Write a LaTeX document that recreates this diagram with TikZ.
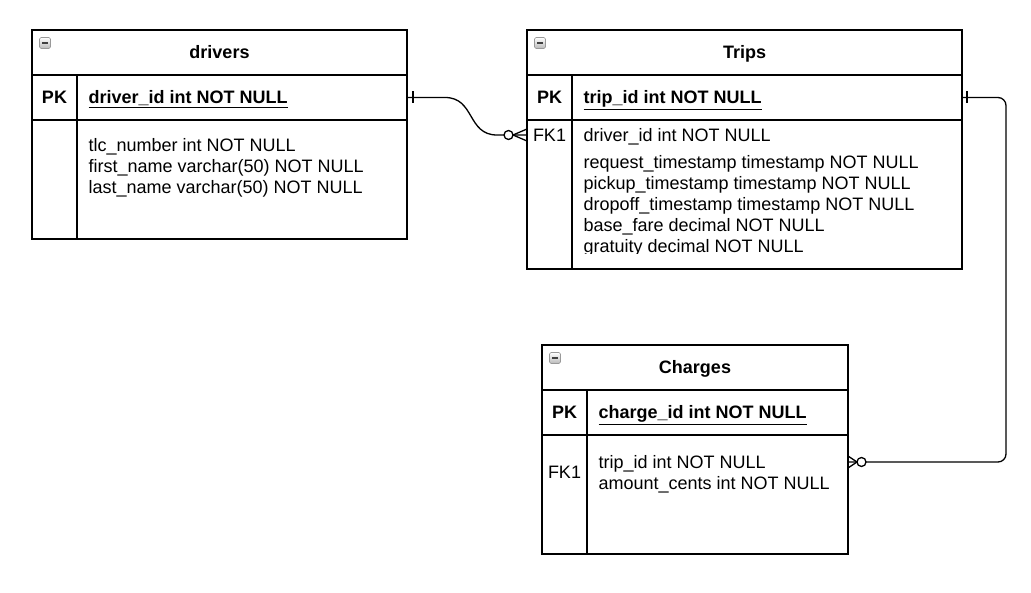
\documentclass[tikz,border=0pt]{standalone}
\usepackage{fontspec}
\setmainfont{Liberation Sans}
\usetikzlibrary{positioning}

\tikzset{
  tbl/.style={draw, line width=1.3pt, anchor=north west, inner sep=0pt, outer sep=0pt},
  ttl/.style={font=\bfseries, text height=12.9pt, text depth=0pt, inner sep=0pt},
  key/.style={text height=12.9pt, text depth=0pt, inner sep=0pt},
  fld/.style={anchor=base west, inner sep=0pt},
  minbox/.style={draw=gray!80, line width=0.6pt, rounded corners=1.5pt, minimum size=11pt, inner sep=0pt,
    top color=white, bottom color=gray!55,
    path picture={\draw[line width=1.6pt, black!75] ([xshift=-3pt]path picture bounding box.center) -- ([xshift=3pt]path picture bounding box.center);}},
}

\begin{document}
\fontsize{18pt}{21pt}\selectfont
\begin{tikzpicture}[x=1pt, y=-1pt, line width=1.3pt]
\useasboundingbox (0,0) rectangle (1031,593);

% drivers table
\node[tbl, minimum width=375pt, minimum height=45pt] (drvHead) at (32,30) {};
\node[tbl, minimum width=375pt, minimum height=45pt, below=0pt of drvHead] (drvPK) {};
\node[tbl, minimum width=375pt, minimum height=119pt, below=0pt of drvPK] (drvBody) {};
\draw ([xshift=45pt]drvPK.north west) -- ([xshift=45pt]drvBody.south west);
\node[ttl] (drvTitle) at (drvHead.center) {drivers};
\node[minbox] (drvIcon) at (45,43) {};
\node[key, font=\bfseries] (drvPKk) at (54.5,97.5) {PK};
\node[key, anchor=west] (drvPKf) at (88,97.5) {\underline{\textbf{driver\_id int NOT NULL}}};
\foreach \f [count=\i] in {tlc\_number int NOT NULL, first\_name varchar(50) NOT NULL, last\_name varchar(50) NOT NULL}
  \node[fld] (drvF\i) at (88,130.5+21*\i) {\f};

% Trips table
\node[tbl, minimum width=435pt, minimum height=45pt] (tripHead) at (527,30) {};
\node[tbl, minimum width=435pt, minimum height=45pt, below=0pt of tripHead] (tripPK) {};
\node[tbl, minimum width=435pt, minimum height=149pt, below=0pt of tripPK] (tripBody) {};
\draw ([xshift=45pt]tripPK.north west) -- ([xshift=45pt]tripBody.south west);
\node[ttl] (tripTitle) at (tripHead.center) {Trips};
\node[minbox] (tripIcon) at (540,43) {};
\node[key, font=\bfseries] (tripPKk) at (549.5,97.5) {PK};
\node[key, anchor=west] (tripPKf) at (583,97.5) {\underline{\textbf{trip\_id int NOT NULL}}};
\node[key] (tripFKk) at (549.5,135) {FK1};
\begin{scope}
  \clip (572,120) rectangle (962,253.5);
  \node[fld] (tripF0) at (583,141.5) {driver\_id int NOT NULL};
  \foreach \f [count=\i] in {request\_timestamp timestamp NOT NULL, pickup\_timestamp timestamp NOT NULL,
      dropoff\_timestamp timestamp NOT NULL, base\_fare decimal NOT NULL, gratuity decimal NOT NULL}
    \node[fld] (tripF\i) at (583,147.5+21*\i) {\f};
\end{scope}

% Charges table
\node[tbl, minimum width=306pt, minimum height=45pt] (chgHead) at (542,345) {};
\node[tbl, minimum width=306pt, minimum height=45pt, below=0pt of chgHead] (chgPK) {};
\node[tbl, minimum width=306pt, minimum height=119pt, below=0pt of chgPK] (chgBody) {};
\draw ([xshift=45pt]chgPK.north west) -- ([xshift=45pt]chgBody.south west);
\node[ttl] (chgTitle) at (chgHead.center) {Charges};
\node[minbox] (chgIcon) at (555,358) {};
\node[key, font=\bfseries] (chgPKk) at (564.5,412.5) {PK};
\node[key, anchor=west] (chgPKf) at (598,412.5) {\underline{\textbf{charge\_id int NOT NULL}}};
\node[key] (chgFKk) at (564.5,472) {FK1};
\foreach \f [count=\i] in {trip\_id int NOT NULL, amount\_cents int NOT NULL}
  \node[fld] (chgF\i) at (598,447.5+21*\i) {\f};

% drivers -> Trips (one to zero-or-many)
\coordinate (tripIn) at (tripFKk.west -| tripBody.west);
\draw (drvPK.east) -- ++(38,0) .. controls +(30,0) and +(-30,0) .. ([xshift=-30pt]tripIn) -- (tripIn);
\draw ([xshift=6pt]drvPK.east) ++(0,-6) -- ++(0,12);
\draw ([xshift=-14pt]tripIn) -- ([yshift=6pt]tripIn);
\draw ([xshift=-14pt]tripIn) -- ([yshift=-6pt]tripIn);
\draw[fill=white] ([xshift=-18.5pt]tripIn) circle (4.5pt);

% Trips -> Charges (one to zero-or-many)
\coordinate (chgIn) at (848,462);
\draw[rounded corners=8pt] (tripPK.east) -- ++(44,0) |- (chgIn);
\draw ([xshift=5pt]tripPK.east) ++(0,-6) -- ++(0,12);
\draw ([xshift=9pt]chgIn) -- ([yshift=6pt]chgIn);
\draw ([xshift=9pt]chgIn) -- ([yshift=-6pt]chgIn);
\draw[fill=white] ([xshift=13.5pt]chgIn) circle (4.5pt);

\end{tikzpicture}
\end{document}
